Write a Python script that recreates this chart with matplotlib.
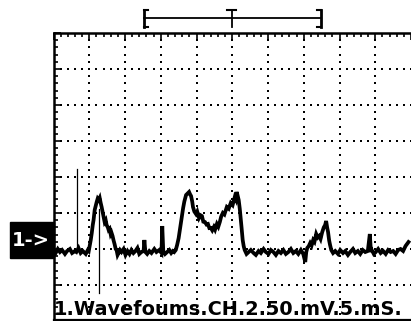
import numpy as np
import matplotlib
matplotlib.use("Agg")
import matplotlib.pyplot as plt
from matplotlib.patches import Rectangle
from matplotlib.lines import Line2D
from matplotlib.transforms import blended_transform_factory

# trace: time (ms) and level (mV) relative to the 1-> marker
TIME_MS = [0.0, 0.3, 0.6, 0.9, 1.2, 1.6, 1.9, 2.29, 2.6, 2.99, 3.2, 3.5, 3.8, 4.1,
           4.51, 4.8, 4.93,
           5.21, 5.35, 5.49, 5.6, 5.76, 5.9, 6.04, 6.18, 6.32, 6.46, 6.60, 6.74,
           6.88, 7.0, 7.15, 7.3, 7.43, 7.6, 7.71, 7.85, 7.99, 8.1, 8.26, 8.4,
           8.54, 8.7, 8.82, 8.96, 9.10,
           9.3, 9.51, 9.8, 10.07, 10.35, 10.63, 10.9, 11.18, 11.46, 11.74, 12.0,
           12.29, 12.6, 12.71, 12.85, 13.1, 13.4, 13.7, 14.1, 14.4, 14.79, 15.1,
           15.21, 15.35, 15.6, 15.9, 16.2, 16.46, 16.7, 16.88, 17.1,
           17.29, 17.5, 17.71, 17.9, 18.13, 18.3, 18.54, 18.75, 18.96, 19.1,
           19.24, 19.4, 19.51, 19.7, 19.93, 20.1, 20.35, 20.55, 20.76, 20.95,
           21.18, 21.4, 21.60, 21.8, 22.01, 22.2, 22.43, 22.6, 22.85, 23.05,
           23.26, 23.45, 23.68, 23.9, 24.24, 24.5, 24.79, 25.05, 25.35, 25.5,
           25.63, 25.75, 25.90, 26.05, 26.18, 26.3, 26.46, 26.6, 26.74,
           27.0, 27.29, 27.6, 27.99, 28.3, 28.68, 29.0, 29.38, 29.7, 30.07, 30.4,
           30.76, 31.1, 31.46, 31.8, 32.15, 32.5, 32.85, 33.2, 33.54, 33.9, 34.24,
           34.6, 34.93, 35.21, 35.35, 35.49, 35.7, 35.90, 36.1, 36.32, 36.5,
           36.74, 36.95, 37.15, 37.35, 37.57, 37.8, 37.99, 38.13, 38.27, 38.40,
           38.55, 38.68, 38.85, 39.10, 39.4, 39.79, 40.1, 40.49, 40.8, 41.18,
           41.5, 41.88, 42.2, 42.57, 42.9, 43.26, 43.6, 43.96, 44.24, 44.4, 44.51,
           44.8, 45.07, 45.4, 45.76, 46.1, 46.46, 46.8, 47.15, 47.5, 47.85, 48.2,
           48.54, 48.9, 49.24, 49.65]
LEVEL_MV = [-2.8, -5.6, 0.0, -4.2, -1.4, -6.9, -2.8, 0.0, -5.6, -2.8, -4.2, 1.4,
            -5.6, -2.8, -6.9, -1.4, -2.8,
            12.5, 22.0, 33.3, 40.0, 54.2, 60.0, 65.3, 70.0, 68.1, 71.0, 63.9, 58.0,
            51.4, 45.0, 37.5, 40.0, 33.3, 30.0, 26.4, 28.0, 20.8, 23.0, 18.1, 12.0,
            6.9, 0.0, -1.4, -8.3, -5.6,
            -1.4, -4.2, 0.0, -8.3, -2.8, -6.9, -1.4, -5.6, -2.8, 1.4, -6.9,
            -4.2, -2.8, 12.5, -4.2, -6.9, -2.8, -5.6, 0.0, -4.2, -1.4, -5.6,
            31.9, -2.8, -6.9, -4.2, -1.4, -5.6, -2.8, -4.2, -1.4,
            5.6, 15.0, 29.2, 42.0, 56.9, 66.0, 75.0, 77.0, 79.2, 76.0,
            73.6, 66.0, 58.3, 52.0, 48.6, 52.0, 43.1, 47.0, 45.8, 38.0,
            37.5, 34.0, 34.7, 29.0, 29.2, 26.0, 30.6, 27.0, 34.7, 31.0,
            37.5, 45.0, 50.0, 48.0, 58.3, 56.0, 63.9, 61.0, 72.2, 69.0,
            79.2, 74.0, 68.1, 56.0, 43.1, 30.0, 12.5, 4.0, -1.4,
            -6.9, -4.2, -1.4, -5.6, -8.3, -2.8, -5.6, 0.0, -4.2, -6.9, -1.4,
            -4.2, -8.3, -2.8, -5.6, -1.4, -6.9, -4.2, 0.0, -5.6, -2.8, -6.9,
            -1.4, -6.9, -18.1, -4.2, 1.4, 4.0, 8.3, 5.0, 12.5, 10.0,
            20.8, 16.0, 18.1, 14.0, 23.0, 30.0, 33.3, 38.9, 30.0, 23.6,
            12.0, 5.6, -1.4, -5.6, -2.8, -6.9, -1.4, -5.6, -2.8, -8.3,
            -4.2, 0.0, -5.6, -2.8, -6.9, -1.4, -4.2, -2.8, 20.8, -4.2, -1.4,
            -6.9, -4.2, 0.0, -5.6, -2.8, -6.9, -1.4, -4.2, -2.8, -6.9, -1.4,
            0.0, -2.8, 4.2, 9.7]

# thin glitches: (time ms, bottom mV, top mV)
SPIKES = [(3.33, 0.0, 111.1), (6.32, -61.1, 55.0)]

MS_PER_DIV = 5
MV_PER_DIV = 50
FOOTER = "1.Wavefoums.CH.2.50.mV.5.mS."

W, H = 411, 321
fig = plt.figure(figsize=(W / 100, H / 100), dpi=100)
fig.patch.set_facecolor("white")

# screen: 10 x 8 divisions of 36 px, left edge at 53.5 px, top at 33 px
ax = fig.add_axes([53.5 / W, 0, (W - 53.5) / W, 288 / H])
ax.set_xlim(0, (W - 53.5) / 36 * MS_PER_DIV)
ax.set_ylim(-2 * MV_PER_DIV, 6 * MV_PER_DIV)
ax.set_facecolor("white")

# dotted graticule
for k in range(1, 10):
    ys = np.arange(-100, 301, 10)
    ax.scatter(np.full(len(ys), k * MS_PER_DIV), ys, s=1.3, marker="s",
               color="black", linewidths=0, zorder=1)
for k in range(-1, 6):
    xs = np.arange(0, 51, 1.0)
    ax.scatter(xs, np.full(len(xs), k * MV_PER_DIV), s=1.3, marker="s",
               color="black", linewidths=0, zorder=1)

ax.plot(TIME_MS, LEVEL_MV, color="black", lw=2.7, solid_joinstyle="miter", zorder=3)
for t, lo, hi in SPIKES:
    ax.plot([t, t], [lo, hi], color="black", lw=0.9, zorder=3)

for s in ("bottom", "right"):
    ax.spines[s].set_visible(False)
for s in ("top", "left"):
    ax.spines[s].set_linewidth(1.8)
ax.set_xticks(np.arange(0, 51, MS_PER_DIV))
ax.set_xticks(np.arange(0, 51, 1.0), minor=True)
ax.set_yticks(np.arange(-100, 301, MV_PER_DIV))
ax.set_yticks(np.arange(-100, 301, 10), minor=True)
ax.tick_params(which="both", direction="in", top=True, bottom=False,
               left=True, right=False, labelbottom=False, labelleft=False,
               color="black", width=1.2)
ax.tick_params(which="major", length=5)
ax.tick_params(which="minor", length=3)

# footer text, underlined
ax.text(0.0, -92, FOOTER, fontsize=13.9, fontweight="bold", family="DejaVu Sans",
        ha="left", va="baseline", zorder=4)
ax.plot([0, 50], [-98, -98], color="black", lw=1.6, clip_on=False, zorder=4)

# channel marker box
fig.add_artist(Rectangle((10 / W, 1 - 258 / H), 43.5 / W, 36 / H,
                         transform=fig.transFigure, color="black"))
fig.text(31 / W, 1 - 240 / H, "1->", color="white", fontsize=14,
         fontweight="bold", ha="center", va="center")

# trigger/time bracket above the screen
tr = blended_transform_factory(ax.transData, fig.transFigure)
yl = 1 - 18 / H
yt, yb = 1 - 10 / H, 1 - 27 / H
fig.add_artist(Line2D([12.7, 37.4], [yl, yl], transform=tr, color="black", lw=1.3))
for x in (12.7, 37.4):
    fig.add_artist(Line2D([x, x], [yb, yt], transform=tr, color="black", lw=2))
fig.add_artist(Line2D([12.7, 13.2], [yt, yt], transform=tr, color="black", lw=1.5))
fig.add_artist(Line2D([12.7, 13.2], [yb, yb], transform=tr, color="black", lw=1.5))
fig.add_artist(Line2D([36.9, 37.4], [yt, yt], transform=tr, color="black", lw=1.5))
fig.add_artist(Line2D([36.9, 37.4], [yb, yb], transform=tr, color="black", lw=1.5))
fig.add_artist(Line2D([24.9, 24.9], [yb, yt], transform=tr, color="black", lw=1.3))
fig.add_artist(Line2D([24.3, 25.5], [yt, yt], transform=tr, color="black", lw=1.5))

fig.savefig("out.png", dpi=100, facecolor="white")
